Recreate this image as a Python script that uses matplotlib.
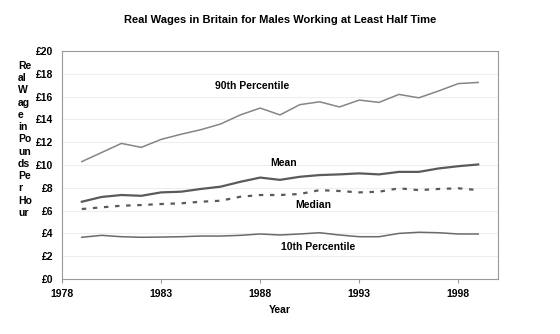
import numpy as np
import matplotlib.pyplot as plt

plt.rcParams['font.family'] = ['Liberation Sans', 'DejaVu Sans']

years = list(range(1979, 2000))
p90 = [10.3, 11.1, 11.9, 11.55, 12.25, 12.7, 13.1, 13.6, 14.4, 15.0, 14.4,
       15.3, 15.55, 15.1, 15.7, 15.5, 16.2, 15.9, 16.5, 17.15, 17.25]
mean = [6.78, 7.2, 7.37, 7.3, 7.6, 7.66, 7.9, 8.1, 8.53, 8.9, 8.7,
        8.97, 9.12, 9.18, 9.27, 9.18, 9.4, 9.4, 9.7, 9.9, 10.05]
median = [6.14, 6.29, 6.43, 6.49, 6.58, 6.64, 6.78, 6.87, 7.22, 7.37, 7.37,
          7.46, 7.8, 7.72, 7.6, 7.66, 7.96, 7.8, 7.9, 7.96, 7.8]
p10 = [3.66, 3.83, 3.71, 3.66, 3.68, 3.71, 3.77, 3.77, 3.83, 3.95, 3.86,
       3.95, 4.06, 3.86, 3.71, 3.71, 4.0, 4.1, 4.06, 3.95, 3.95]

yticks = list(range(0, 21, 2))
xticks = [1978, 1983, 1988, 1993, 1998]
ylabel_lines = ['Re', 'al', 'W', 'ag', 'e', 'in', 'Po', 'un', 'ds', 'Pe', 'r', 'Ho', 'ur']

fig = plt.figure(figsize=(5.6, 3.34), dpi=100)
ax = fig.add_axes([0.1107, 0.1647, 0.7786, 0.6823])

ax.plot(years, p90, color='#858585', lw=1.1)
ax.plot(years, mean, color='#5a5a5a', lw=1.6)
ax.plot(years, median, color='#5a5a5a', lw=1.6, ls=(0, (2, 3)))
ax.plot(years, p10, color='#6a6a6a', lw=1.1)

ax.set_xlim(1978, 2000)
ax.set_ylim(0, 20)
ax.set_yticks(yticks)
ax.set_yticklabels(['£%d' % v for v in yticks], fontsize=7.5, fontweight='bold')
ax.set_xticks(xticks)
ax.set_xticklabels([str(v) for v in xticks], fontsize=7.5, fontweight='bold')
ax.tick_params(axis='y', length=0, pad=6)
ax.tick_params(axis='x', length=3, color='#999999', pad=4)
ax.grid(axis='y', color='#eeeeee', lw=0.8)
ax.set_axisbelow(True)
for s in ax.spines.values():
    s.set_color('#999999')
    s.set_linewidth(0.8)

kw = dict(fontsize=7.5, fontweight='bold', ha='center', va='center')
ax.text(1987.6, 16.95, '90th Percentile', **kw)
ax.text(1989.2, 10.2, 'Mean', **kw)
ax.text(1990.7, 6.45, 'Median', **kw)
ax.text(1990.9, 2.85, '10th Percentile', **kw)

fig.text(0.5, 1 - 20 / 334, 'Real Wages in Britain for Males Working at Least Half Time',
         fontsize=8, fontweight='bold', ha='center', va='center')
fig.text(0.5, 1 - 310 / 334, 'Year', fontsize=7.5, fontweight='bold', ha='center', va='center')
fig.text(18 / 560, 1 - 61 / 334, '\n'.join(ylabel_lines), fontsize=7.5, fontweight='bold',
         ha='left', va='top', linespacing=1.28)

fig.savefig('out.png', dpi=100)
